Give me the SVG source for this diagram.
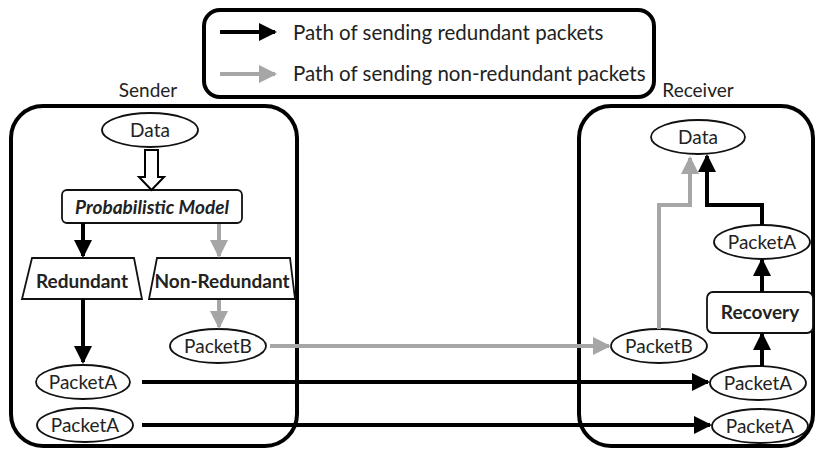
<svg xmlns="http://www.w3.org/2000/svg" width="817" height="450" viewBox="0 0 817 450">
<style>
text{font-family:Lato,"Open Sans","Liberation Sans",sans-serif;fill:#222;}
.lbl{font-size:19px;text-anchor:middle;}
.node{fill:#fff;stroke:#111;stroke-width:1.8;}
.blk{fill:none;stroke:#000;stroke-width:4;}
.gry{fill:none;stroke:#a6a6a6;stroke-width:4;}
.frame{fill:none;stroke:#000;stroke-width:4;}
</style>
<defs>
<marker id="ab" markerUnits="userSpaceOnUse" markerWidth="20" markerHeight="20" refX="16" refY="9" orient="auto">
<path d="M0,0 L18,9 L0,18 Z" fill="#000"/>
</marker>
<marker id="ag" markerUnits="userSpaceOnUse" markerWidth="20" markerHeight="20" refX="16" refY="9" orient="auto">
<path d="M0,0 L18,9 L0,18 Z" fill="#a6a6a6"/>
</marker>
</defs>

<g id="legend">
<rect x="204" y="10" width="450" height="87" rx="16" class="frame" stroke-width="3"/>
<line x1="220" y1="32" x2="275" y2="32" class="blk" marker-end="url(#ab)"/>
<text x="293" y="40" font-size="20.5">Path of sending redundant packets</text>
<line x1="220" y1="74" x2="275" y2="74" class="gry" marker-end="url(#ag)"/>
<text x="293" y="81" font-size="20.5">Path of sending non-redundant packets</text>
</g>

<g id="sender">
<text x="148" y="97" class="lbl" font-size="21">Sender</text>
<rect x="11" y="106" width="286" height="340" rx="32" class="frame"/>
</g>
<g id="receiver">
<text x="698" y="97" class="lbl" font-size="21">Receiver</text>
<rect x="579" y="106" width="234" height="340" rx="32" class="frame"/>
</g>

<g id="s-data"><ellipse cx="150" cy="130" rx="48" ry="17" class="node"/><text x="150" y="137" class="lbl">Data</text></g>
<g id="s-model"><rect x="62" y="190" width="180" height="33" rx="5" class="node"/><text x="152" y="214" class="lbl" font-size="20" font-weight="bold" font-style="italic">Probabilistic Model</text></g>
<g id="s-redundant"><path d="M32,258 L134,258 L142,299 L22,299 Z" class="node"/><text x="82" y="288" class="lbl" font-weight="bold">Redundant</text></g>
<g id="s-nonredundant"><path d="M157,258 L290,258 L295,299 L149,299 Z" class="node"/><text x="222" y="288" class="lbl" font-size="18.5" font-weight="bold">Non-Redundant</text></g>
<g id="s-packetB"><ellipse cx="218" cy="346" rx="48" ry="17" class="node"/><text x="218" y="353" class="lbl">PacketB</text></g>
<g id="s-packetA1"><ellipse cx="83" cy="382" rx="47" ry="17" class="node"/><text x="83" y="389" class="lbl">PacketA</text></g>
<g id="s-packetA2"><ellipse cx="85" cy="425" rx="48" ry="17" class="node"/><text x="85" y="432" class="lbl">PacketA</text></g>

<g id="r-data"><ellipse cx="698" cy="137" rx="47" ry="17" class="node"/><text x="698" y="144" class="lbl">Data</text></g>
<g id="r-packetA-top"><ellipse cx="762" cy="242" rx="48" ry="17" class="node"/><text x="762" y="249" class="lbl">PacketA</text></g>
<g id="r-recovery"><rect x="707" y="292" width="106" height="41" rx="6" class="node"/><text x="760" y="319" class="lbl" font-weight="bold">Recovery</text></g>
<g id="r-packetB"><ellipse cx="659" cy="346" rx="48" ry="17" class="node"/><text x="659" y="353" class="lbl">PacketB</text></g>
<g id="r-packetA-mid"><ellipse cx="758" cy="383" rx="48" ry="17" class="node"/><text x="758" y="390" class="lbl">PacketA</text></g>
<g id="r-packetA-low"><ellipse cx="760" cy="426" rx="48" ry="17" class="node"/><text x="760" y="433" class="lbl">PacketA</text></g>

<g id="connectors">
<path d="M145,150 L158,150 L158,177 L164,177 L151.5,190 L139,177 L145,177 Z" fill="#fff" stroke="#000" stroke-width="2"/>
<line x1="83" y1="223" x2="83" y2="256" class="blk" marker-end="url(#ab)"/>
<line x1="219" y1="224" x2="219" y2="256" class="gry" marker-end="url(#ag)"/>
<line x1="83" y1="299" x2="83" y2="362" class="blk" marker-end="url(#ab)"/>
<line x1="219" y1="300" x2="219" y2="327" class="gry" marker-end="url(#ag)"/>
<line x1="270" y1="346" x2="609" y2="346" class="gry" marker-end="url(#ag)"/>
<line x1="142" y1="382" x2="708" y2="382" class="blk" marker-end="url(#ab)"/>
<line x1="142" y1="425" x2="710" y2="425" class="blk" marker-end="url(#ab)"/>
<path d="M659,329 L659,205 L690,205 L690,158" class="gry" marker-end="url(#ag)"/>
<path d="M762,225 L762,205 L707,205 L707,156" class="blk" marker-end="url(#ab)"/>
<line x1="762" y1="366" x2="762" y2="334" class="blk" marker-end="url(#ab)"/>
<line x1="762" y1="292" x2="762" y2="260" class="blk" marker-end="url(#ab)"/>
</g>
</svg>
